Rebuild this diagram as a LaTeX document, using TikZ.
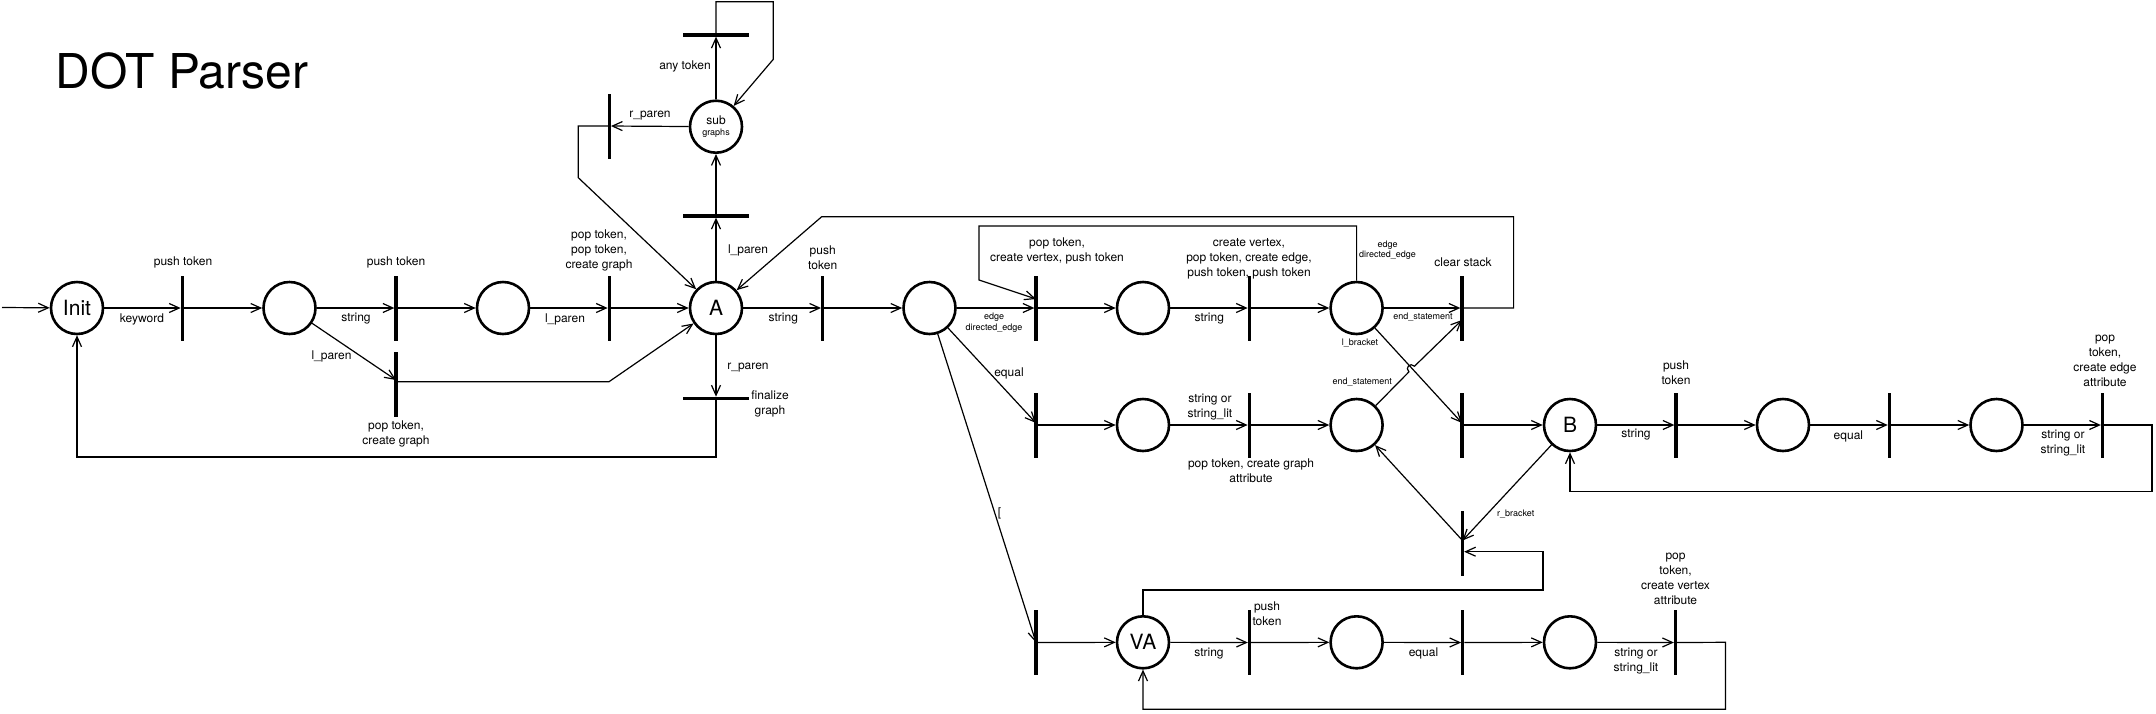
\documentclass[tikz,border=0pt]{standalone}
\usepackage{fontspec}
\setmainfont{TeX Gyre Heros}
\usetikzlibrary{arrows.meta}
\tikzset{
 place/.style={circle, draw, line width=2.6pt, minimum size=52pt, inner sep=0pt, font=\fontsize{21}{24}\selectfont, align=center},
 vbar/.style={fill=black, draw=none, minimum width=3.3pt, minimum height=65pt, inner sep=0pt, outer sep=0pt},
 hbar/.style={fill=black, draw=none, minimum width=66pt, minimum height=3.3pt, inner sep=0pt, outer sep=0pt},
 arr/.style={-{Straight Barb[length=10pt,width=9pt]}, line width=1.2pt},
 ln/.style={line width=1.2pt},
 lbl/.style={font=\fontsize{12}{15}\selectfont, align=center, inner sep=0pt},
 slbl/.style={font=\fontsize{9}{10.7}\selectfont, align=center, inner sep=0pt},
}
\begin{document}
\begin{tikzpicture}[x=1pt,y=-1pt]
\useasboundingbox (0,0) rectangle (2156,713);
\node[font=\fontsize{48}{50}\selectfont, inner sep=0pt] (title) at (182,71) {DOT Parser};
% places
\node[place] (init) at (77,308) {Init};
\node[place] (c2) at (289.5,308) {};
\node[place] (c3) at (503,308) {};
\node[place] (A) at (716,308) {A};
\node[place, font=\fontsize{12}{12}\selectfont] (sub) at (716,126.7) {sub\\[-1.5pt]{\fontsize{9}{9}\selectfont graphs}};
\node[place] (c5) at (929.5,308) {};
\node[place] (c6) at (1143,308) {};
\node[place] (c7) at (1356.6,308) {};
\node[place] (c8) at (1143,425) {};
\node[place] (c9) at (1356.6,425) {};
\node[place] (B) at (1570,425) {B};
\node[place] (c11) at (1783,425) {};
\node[place] (c12) at (1996.5,425) {};
\node[place] (VA) at (1143,642.3) {VA};
\node[place] (cv1) at (1356.6,642.3) {};
\node[place] (cv2) at (1570,642.3) {};
% transitions
\node[vbar] (t1) at (182.3,308) {};
\node[vbar] (t2) at (396,308) {};
\node[vbar] (t3) at (609.3,308) {};
\node[vbar] (t2b) at (396,384) {};
\node[hbar] (tsubin) at (716,216) {};
\node[hbar] (tany) at (716,35) {};
\node[vbar] (trp) at (609.3,126) {};
\node[hbar] (tfin) at (716,398.3) {};
\node[vbar] (t4) at (822.7,308) {};
\node[vbar] (t5) at (1036,308) {};
\node[vbar] (t6) at (1036,425) {};
\node[vbar] (t7) at (1249.3,308) {};
\node[vbar] (tclr) at (1462,308) {};
\node[vbar] (t9) at (1249.3,425) {};
\node[vbar] (t8) at (1462,425) {};
\node[vbar] (t10) at (1676,425) {};
\node[vbar] (t11) at (1889.4,425) {};
\node[vbar] (t12) at (2102.5,425) {};
\node[vbar] (trb) at (1462.5,543) {};
\node[vbar] (tva) at (1036,642.5) {};
\node[vbar] (tva1) at (1249.5,642.5) {};
\node[vbar] (tva2) at (1462.8,642.5) {};
\node[vbar] (tva3) at (1675.5,642.5) {};
% labels
\node[lbl] (l1) at (183,262) {push token};
\node[lbl] (l2) at (396,262) {push token};
\node[lbl] (l3) at (142,319) {keyword};
\node[lbl] (l4) at (356,319) {string};
\node[lbl] (l5) at (565,319) {l\_paren};
\node[lbl] (l6) at (599,250) {pop token,\\pop token,\\create graph};
\node[lbl] (l7) at (331.5,356.7) {l\_paren};
\node[lbl] (l8) at (396,433.7) {pop token,\\create graph};
\node[lbl] (l9) at (685,66) {any token};
\node[lbl] (l10) at (650,115.7) {r\_paren};
\node[lbl] (l11) at (748,250) {l\_paren};
\node[lbl] (l12) at (748,368) {r\_paren};
\node[lbl] (l13) at (770,404) {finalize\\graph};
\node[lbl] (l14) at (822.7,257.5) {push\\token};
\node[lbl] (l15) at (783.3,319) {string};
\node[slbl] (l16) at (994,322.5) {edge\\directed\_edge};
\node[lbl] (l17) at (1009,373.3) {equal};
\node[lbl] (l18) at (999.5,513.3) {[};
\node[lbl] (l19) at (1057,250.8) {pop token,\\create vertex, push token};
\node[lbl] (l20) at (1209.3,319) {string};
\node[lbl] (l21) at (1249,258.3) {create vertex,\\pop token, create edge,\\push token, push token};
\node[slbl] (l22) at (1387.5,250.3) {edge\\directed\_edge};
\node[lbl] (l23) at (1463,262.3) {clear stack};
\node[slbl] (l24) at (1423,317) {end\_statement};
\node[slbl] (l25) at (1360,342.7) {l\_bracket};
\node[lbl] (l26) at (1210,407.5) {string or\\string\_lit};
\node[lbl] (l27) at (1251,470.5) {pop token, create graph\\attribute};
\node[slbl] (l28) at (1362.3,381.7) {end\_statement};
\node[lbl] (l29) at (1676,372.5) {push\\token};
\node[lbl] (l30) at (1636,435) {string};
\node[lbl] (l31) at (1848.4,436) {equal};
\node[lbl] (l32) at (2063,443) {string or\\string\_lit};
\node[lbl] (l33) at (2105,360.8) {pop\\token,\\create edge\\attribute};
\node[slbl] (l34) at (1515.7,514.3) {r\_bracket};
\node[lbl] (l35) at (1209,653.3) {string};
\node[lbl] (l36) at (1267,613.5) {push\\token};
\node[lbl] (l37) at (1423.5,653.3) {equal};
\node[lbl] (l38) at (1636,660.8) {string or\\string\_lit};
\node[lbl] (l39) at (1675.5,578.8) {pop\\token,\\create vertex\\attribute};
% connectors
\coordinate (start) at (2,307.5);
\draw[arr] (start) -- (init);
\draw[arr] (init) -- (t1);
\draw[arr] (t1) -- (c2);
\draw[arr] (c2) -- (t2);
\draw[arr] (t2) -- (c3);
\draw[arr] (c3) -- (t3);
\draw[arr] (t3) -- (A);
\draw[arr] (c2) -- ([yshift=4pt]t2b.center);
\draw[arr] ([yshift=2.3pt]t2b.center) -- (609,381.7) -- (A);
\draw[arr] (A) -- (tsubin);
\draw[arr] (tsubin) -- (sub);
\draw[arr] (sub) -- (tany);
\draw[arr] (tany.center) -- (716,1.7) -- (773.3,1.7) -- (773.3,59.3) -- (sub);
\draw[arr] (sub) -- (trp);
\draw[arr] (trp.center) -- (578.3,126) -- (578.3,177.7) -- (A);
\draw[arr] (A) -- (tfin);
\draw[arr] (tfin.center) -- (716,457) -- (77,457) -- (init);
\draw[arr] (A) -- (t4);
\draw[arr] (t4) -- (c5);
\draw[arr] (c5) -- (t5);
\draw[arr] (t5) -- (c6);
\draw[arr] (c6) -- (t7);
\draw[arr] (t7) -- (c7);
\draw[arr] (c7.north) -- (1356.6,226) -- (979,226) -- (979,280) -- ([yshift=9pt]t5.center);
\draw[arr] (c7) -- (tclr);
\draw[arr] (tclr.center) -- (1513.6,308) -- (1513.6,216.7) -- (821.7,216.7) -- (A);
\draw[arr] (c7) -- ([yshift=2pt]t8.center);
\draw[arr] (c5) -- ([yshift=2pt]t6.center);
\draw[arr] (t6) -- (c8);
\draw[arr] (c8) -- (t9);
\draw[arr] (t9) -- (c9);
\draw[arr] (c9) -- (1408.9,371.9) .. controls (1404.6,367.7) and (1410.2,362) .. (1414.5,366.2) -- ([yshift=-12pt]tclr.center);
\draw[arr] (t8) -- (B);
\draw[arr] (B) -- (t10);
\draw[arr] (t10) -- (c11);
\draw[arr] (c11) -- (t11);
\draw[arr] (t11) -- (c12);
\draw[arr] (c12) -- (t12);
\draw[arr] (t12.center) -- (2152,425) -- (2152,491.7) -- (1570,491.7) -- (B);
\draw[arr] (B) -- ([yshift=2.5pt]trb.center);
\draw[arr] ([yshift=2.5pt]trb.center) -- (c9);
\draw[arr] (c5) -- (tva.center);
\draw[arr] (tva) -- (VA);
\draw[arr] (VA) -- (tva1);
\draw[arr] (tva1) -- (cv1);
\draw[arr] (cv1) -- (tva2);
\draw[arr] (tva2) -- (cv2);
\draw[arr] (cv2) -- (tva3);
\draw[arr] (tva3.center) -- (1725.5,642.3) -- (1725.5,709.3) -- (1143,709.3) -- (VA);
\draw[arr] (VA.north) -- (1143,590) -- (1543,590) -- (1543,551.7) -- ([yshift=-8.7pt]trb.east);
\end{tikzpicture}
\end{document}
